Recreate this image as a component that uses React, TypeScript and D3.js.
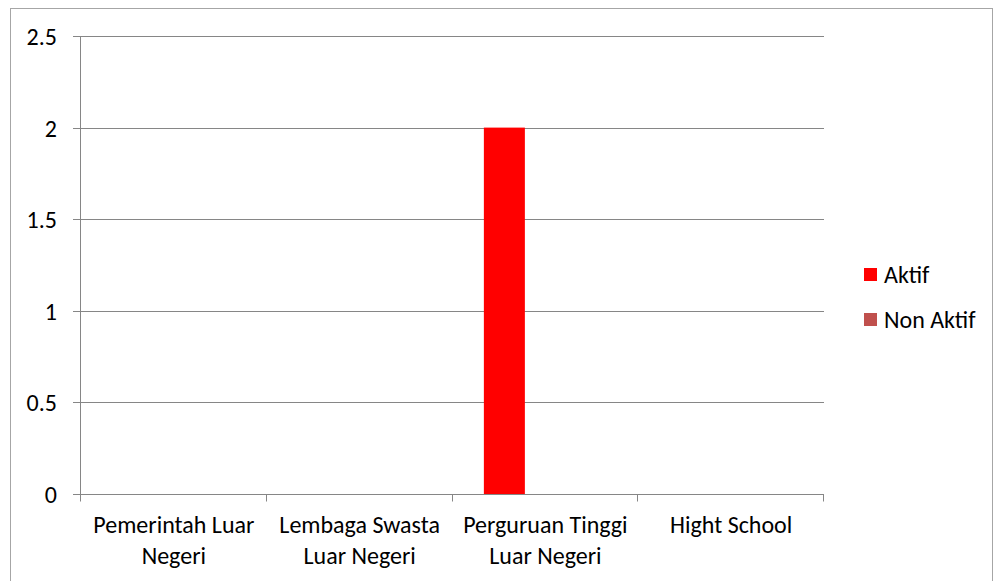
import React, { useEffect, useRef } from 'react';
import * as d3 from 'd3';

const categories = [
  ['Pemerintah Luar', 'Negeri'],
  ['Lembaga Swasta', 'Luar Negeri'],
  ['Perguruan Tinggi', 'Luar Negeri'],
  ['Hight School'],
];
const seriesNames = ['Aktif', 'Non Aktif'];
const seriesColors = ['#ff0000', '#c0504d'];
const aktif = [0, 0, 2, 0];
const nonAktif = [0, 0, 0, 0];
const yTicks = [0, 0.5, 1, 1.5, 2, 2.5];

const App: React.FC = () => {
  const svgRef = useRef<SVGSVGElement>(null);

  useEffect(() => {
    if (!svgRef.current) return;
    const svg = d3.select(svgRef.current);
    svg.selectAll('*').remove();

    const width = 994;
    const height = 581;
    const margin = { top: 36, left: 81, right: 170, bottom: 87 };
    const font = 'Carlito, Calibri, Lato, sans-serif';
    const fs = 24;

    // outer chart border
    svg.append('rect')
      .attr('x', 10.5).attr('y', 8.5)
      .attr('width', 982).attr('height', 600)
      .attr('fill', 'white').attr('stroke', '#a6a6a6');

    const keys = categories.map((_, i) => String(i));
    const x = d3.scaleBand().domain(keys).range([margin.left, width - margin.right]).paddingInner(0).paddingOuter(0);
    const y = d3.scaleLinear().domain([0, 2.5]).range([height - margin.bottom, margin.top]);
    // three slots per group, the last one unused
    const xSub = d3.scaleBand().domain(['0', '1', '2']).range([0, x.bandwidth()]).paddingInner(0).paddingOuter(0.765);

    const g = svg.append('g');

    // gridlines
    g.selectAll('.grid')
      .data(yTicks.filter(t => t > 0))
      .enter().append('line')
      .attr('x1', margin.left).attr('x2', width - margin.right)
      .attr('y1', d => Math.round(y(d)) + 0.5).attr('y2', d => Math.round(y(d)) + 0.5)
      .attr('stroke', '#868686').attr('stroke-width', 1);

    // bars
    const seriesData = [aktif, nonAktif];
    seriesData.forEach((vals, si) => {
      g.selectAll('.bar' + si)
        .data(vals)
        .enter().append('rect')
        .attr('x', (_, i) => x(String(i))! + xSub(String(si))!)
        .attr('width', xSub.bandwidth())
        .attr('y', d => y(d))
        .attr('height', d => y(0) - y(d))
        .attr('fill', seriesColors[si]);
    });

    // axes lines
    const y0 = Math.round(y(0)) + 0.5;
    g.append('line')
      .attr('x1', margin.left - 0.5).attr('x2', margin.left - 0.5)
      .attr('y1', margin.top).attr('y2', y0)
      .attr('stroke', '#868686');
    g.append('line')
      .attr('x1', margin.left - 0.5).attr('x2', width - margin.right)
      .attr('y1', y0).attr('y2', y0)
      .attr('stroke', '#868686');

    // y ticks
    yTicks.forEach(t => {
      const yy = Math.round(y(t)) + 0.5;
      g.append('line')
        .attr('x1', margin.left - 8).attr('x2', margin.left)
        .attr('y1', yy).attr('y2', yy).attr('stroke', '#868686');
      g.append('text')
        .attr('x', 57).attr('y', yy)
        .attr('dy', '0.35em').attr('text-anchor', 'end')
        .attr('font-family', font).attr('font-size', fs)
        .attr('fill', '#000').text(String(t));
    });

    // x ticks
    const bounds = keys.map(k => x(k)!).concat([width - margin.right]);
    bounds.forEach(bx => {
      const xx = Math.round(bx) - 0.5;
      g.append('line')
        .attr('x1', xx).attr('x2', xx)
        .attr('y1', y0).attr('y2', y0 + 7).attr('stroke', '#868686');
    });

    // category labels
    categories.forEach((lines, i) => {
      const cx = x(String(i))! + x.bandwidth() / 2;
      const t = g.append('text')
        .attr('text-anchor', 'middle')
        .attr('font-family', font).attr('font-size', fs).attr('fill', '#000');
      lines.forEach((ln, li) => {
        t.append('tspan').attr('x', cx).attr('y', 533 + li * 31).text(ln);
      });
    });

    // legend
    seriesNames.forEach((name, i) => {
      const ly = 275 + i * 45;
      svg.append('rect')
        .attr('x', 864).attr('y', ly - 7).attr('width', 13).attr('height', 13)
        .attr('fill', seriesColors[i]);
      svg.append('text')
        .attr('x', 884).attr('y', ly).attr('dy', '0.35em')
        .attr('font-family', font).attr('font-size', fs).attr('fill', '#000')
        .text(name);
    });
  }, []);

  return (
    <svg ref={svgRef} width={994} height={581}
      style={{ position: 'absolute', left: 0, top: 0, background: 'white' }} />
  );
};

export default App;
